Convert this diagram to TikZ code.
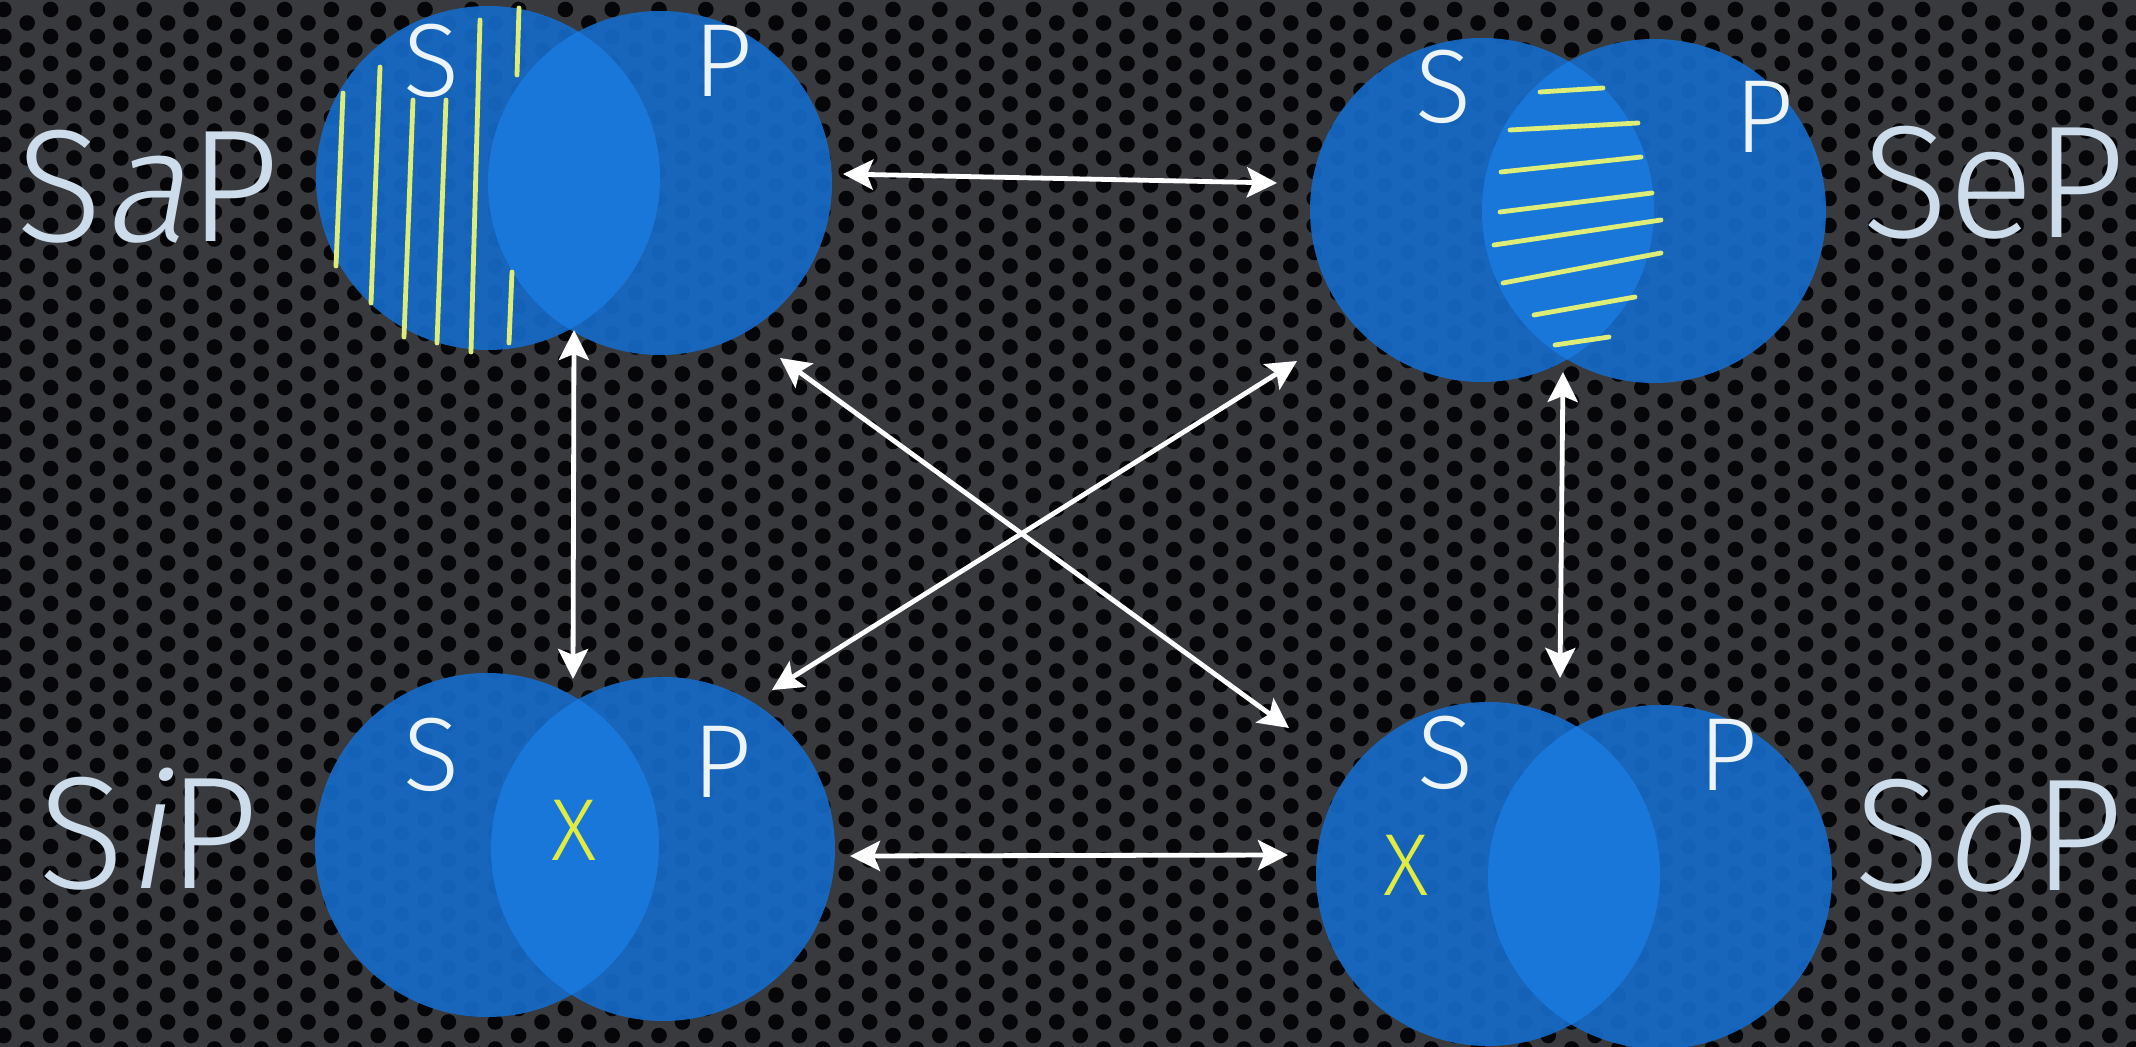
\documentclass[tikz,border=0pt]{standalone}
\usepackage{fontspec}
\newfontfamily\lightsans{Fira Sans Light}[AutoFakeSlant=0.18]
\usetikzlibrary{arrows.meta}

\definecolor{bggray}{RGB}{56,58,62}
\definecolor{holecol}{RGB}{6,6,8}
\definecolor{circblue}{RGB}{22,106,198}
\definecolor{lensblue}{RGB}{26,120,218}
\definecolor{labelcol}{RGB}{205,220,235}
\definecolor{innercol}{RGB}{236,244,250}
\definecolor{hatchcol}{RGB}{222,236,120}
\definecolor{xcol}{RGB}{226,236,64}

\newcommand\vennpair[2]{%
  \fill[circ] (#1) circle[radius=86pt];
  \fill[circ] (#2) circle[radius=86pt];
  \begin{scope}
    \clip (#1) circle[radius=86pt];
    \fill[lensfill] (#2) circle[radius=86pt];
  \end{scope}}

\begin{document}
\begin{tikzpicture}[x=0.5pt,y=-0.5pt,
  circ/.style={fill=circblue, fill opacity=0.93},
  lensfill/.style={fill=lensblue, fill opacity=0.96},
  hatch/.style={draw=hatchcol, line width=2.4pt, line cap=round},
  biarrow/.style={draw=white, line width=2.4pt,
    {Stealth[length=15pt,width=15pt,inset=3pt]}-{Stealth[length=15pt,width=15pt,inset=3pt]}},
  outer/.style={text=labelcol, font=\lightsans\fontsize{80}{80}\selectfont, inner sep=0pt},
  innerlab/.style={text=innercol, font=\lightsans\fontsize{52}{52}\selectfont, inner sep=0pt, anchor=base},
  xmark/.style={text=xcol, font=\lightsans\fontsize{44}{44}\selectfont, inner sep=0pt, anchor=base}
]
% background
\fill[bggray] (0,0) rectangle (2136,1047);
\useasboundingbox (0,0) rectangle (2136,1047);
\foreach \i in {0,...,91} {
  \pgfmathsetmacro\hx{3.8+23.4*\i}
  \pgfmathsetmacro\hy{9.5+13.5*mod(\i,2)}
  \fill[holecol] foreach \j in {0,...,38} { (\hx,{\hy+27*\j}) circle[radius=3.9pt] };
}

% centres
\coordinate (aS) at (488,178);  \coordinate (aP) at (660,183);
\coordinate (eS) at (1482,210); \coordinate (eP) at (1654,211);
\coordinate (iS) at (487,845);  \coordinate (iP) at (663,849);
\coordinate (oS) at (1488,874); \coordinate (oP) at (1660,877);

\vennpair{aS}{aP}
\vennpair{eS}{eP}
\vennpair{iS}{iP}
\vennpair{oS}{oP}

% SaP hatching (S outside P)
\draw[hatch] (343,93) -- (336,266);
\draw[hatch] (380,67) -- (371,303);
\draw[hatch] (413,100) -- (404,337);
\draw[hatch] (446,100) -- (437,343);
\draw[hatch] (480,20) -- (471,352);
\draw[hatch] (519,8) -- (517,75);
\draw[hatch] (512,272) -- (509,343);

% SeP hatching (lens)
\draw[hatch] (1540,92) -- (1603,88);
\draw[hatch] (1510,130) -- (1638,123);
\draw[hatch] (1501,172) -- (1641,157);
\draw[hatch] (1500,212) -- (1652,193);
\draw[hatch] (1494,245) -- (1661,220);
\draw[hatch] (1503,283) -- (1661,253);
\draw[hatch] (1534,315) -- (1635,297);
\draw[hatch] (1555,345) -- (1609,337);

% inner letters
\node[innerlab] (aSl) at (432,97) {S};
\node[innerlab] (aPl) at (723,97) {P};
\node[innerlab] (eSl) at (1444,123) {S};
\node[innerlab] (ePl) at (1764,153) {P};
\node[innerlab] (iSl) at (432,790) {S};
\node[innerlab] (iPl) at (722,797) {P};
\node[innerlab] (oSl) at (1446,788) {S};
\node[innerlab] (oPl) at (1728,790) {P};
\node[xmark] (iX) at (574,860) {X};
\node[xmark] (oX) at (1406,895) {X};

% outer labels
\node[outer, anchor=base west] (SaP) at (16,242) {S\textit{a}P};
\node[outer, anchor=base east] (SeP) at (2126,238) {SeP};
\node[outer, anchor=base west] (SiP) at (38,888) {S\textit{i}P};
\node[outer, anchor=base east] (SoP) at (2124,890) {S\textit{o}P};

% arrow ends
\coordinate (t1) at (843,174);  \coordinate (t2) at (1277,183);
\coordinate (b1) at (850,856);  \coordinate (b2) at (1288,855);
\coordinate (l1) at (574,330);  \coordinate (l2) at (573,679);
\coordinate (r1) at (1563,372); \coordinate (r2) at (1560,678);
\coordinate (d1a) at (780,358); \coordinate (d1b) at (1289,728);
\coordinate (d2a) at (1297,361); \coordinate (d2b) at (772,690);

\draw[biarrow] (t1) -- (t2);
\draw[biarrow] (b1) -- (b2);
\draw[biarrow] (l1) -- (l2);
\draw[biarrow] (r1) -- (r2);
\draw[biarrow] (d1a) -- (d1b);
\draw[biarrow] (d2a) -- (d2b);
\end{tikzpicture}
\end{document}
